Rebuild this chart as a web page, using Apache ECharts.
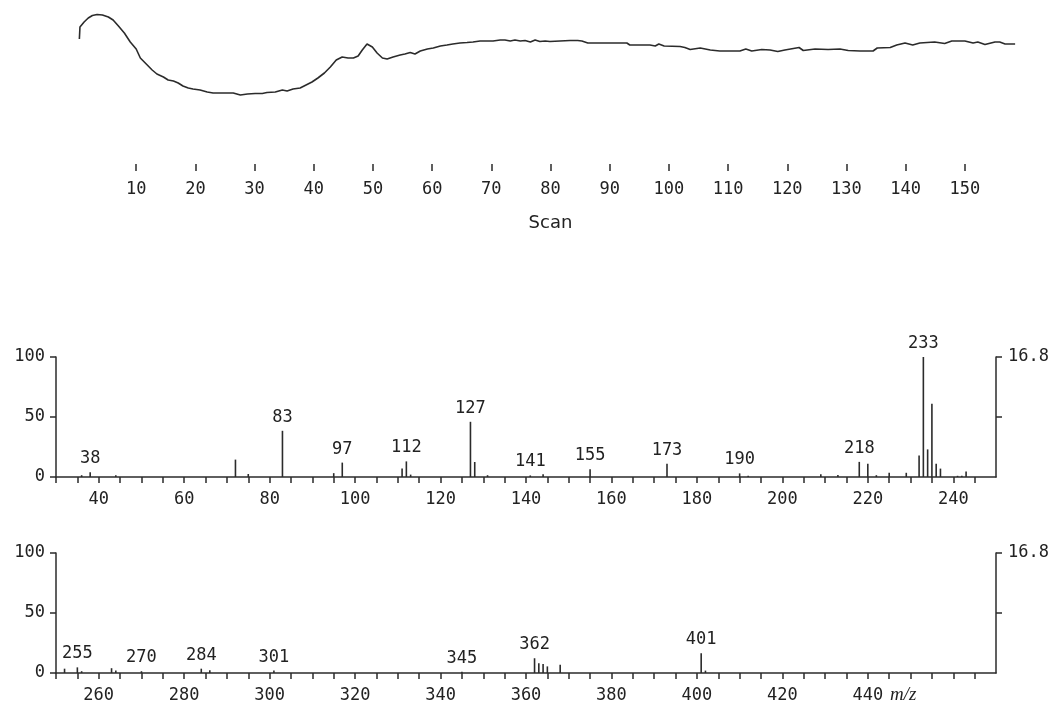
<!DOCTYPE html>
<html>
<head>
<meta charset="utf-8">
<script src="https://cdn.jsdelivr.net/npm/echarts@6/dist/echarts.min.js"></script>
<style>
  html, body { margin: 0; padding: 0; background: #fff; }
  #container { width: 1056px; height: 706px; }
</style>
</head>
<body>
<div id="container"></div>
<script>
// total ion trace (scan number vs. relative signal)
var scans = [0.4,0.5,0.7,1.2,1.9,2.6,3.4,4.3,5.3,6.1,
    7.0,8.0,9.0,10.0,10.7,11.7,12.7,13.5,14.6,15.4,
    16.3,17.1,17.9,18.8,19.6,20.8,22.0,23.0,24.2,25.4,
    26.4,27.6,28.8,30.1,31.3,32.1,33.5,34.7,35.5,36.5,
    37.7,38.7,39.7,40.7,41.8,42.8,43.8,44.8,45.8,46.7,
    47.5,48.2,49.0,49.9,50.7,51.6,52.4,53.4,54.6,55.4,
    56.3,57.1,58.0,59.2,60.2,61.4,62.5,63.5,64.7,65.9,
    66.9,68.1,69.3,70.3,71.5,72.3,73.2,74.0,74.9,75.7,
    76.6,77.4,78.2,79.1,79.9,81.6,83.3,84.6,85.3,86.3,
    88.4,90.9,92.9,93.4,95.1,96.8,97.7,98.3,99.2,101.9,
    102.7,103.6,105.3,107.0,108.6,112.0,113.0,114.0,115.7,117.1,
    118.4,119.6,122.0,122.7,124.7,126.9,127.2,128.9,130.3,132.3,
    134.5,135.2,137.4,138.5,139.9,141.2,142.4,144.9,146.6,147.8,
    150.0,151.4,152.2,153.4,155.1,155.9,156.8,158.5];
var signal = [61,73,75,78,82,84.5,85.5,85,83,80,
    74,67,58,51,42,36,30,26,23,20,
    19,17,14,12,11,10,8,7,7,7,
    7,5,6,6.5,6.5,7.5,8,10,9,11,
    12,15,18,22,27,33,40,43,42,42,
    44,50,56,53,47,42,41,43,45,46,
    47.5,46,49,51,52,54,55,56,57,57.5,
    58,59,59,59,60,60,59,60,59,59.5,
    58,60,58.5,59,58.5,59,59.5,59.5,59,57,
    57,57,57,55,55,55,54,56,54,53.5,
    52.5,50.5,52,50,49,49,51,49,50.5,50,
    48.5,50,52.5,49.5,51,50.5,49,51,49.5,49,
    49,52,52.5,55,57,55,57,58,56.5,59,
    59,57,58,55.5,58,58,56,56];
var scanTicks = [10,20,30,40,50,60,70,80,90,100,110,120,130,140,150];

// mass spectrum, m/z 30-250
var mz1  = [36,38,44,72,75,83,95,97,111,112,113,127,128,131,141,144,155,173,190,192,209,213,218,220,222,225,229,232,233,234,235,236,237,241,242,243];
var int1 = [1.5,4,1.5,14.5,2.5,38.5,3.2,12,7,13,2,46,12.5,1.5,1.3,2.2,6.5,11,3,1,2.2,1.7,12.6,11,1.5,3.5,3.5,18,100,23,61,11,7,1,1,4.5];
var peaks1 = [38,83,97,112,127,141,155,173,190,218,233];
var labels1 = [40,60,80,100,120,140,160,180,200,220,240];

// mass spectrum, m/z 250-470
var mz2  = [252,255,256,263,264,270,284,286,301,345,362,363,364,365,368,401,402];
var int2 = [3.6,4.7,1.5,4,2,1.5,3.6,2.2,2,1,12.3,8.2,7.4,5.5,6.8,16.4,2];
var peaks2 = [255,270,284,301,345,362,401];
var labels2 = [260,280,300,320,340,360,380,400,420,440];

var fullScale = '16.8';

var ink = '#2b2b2b';
var mono = '"DejaVu Sans Mono", monospace';

function stepTicks(from, to) {
    var t = [];
    for (var v = from; v <= to; v += 5) t.push(v);
    return t;
}

function barData(mz, inten, peaks) {
    return mz.map(function (m, i) {
        var item = { value: [m, inten[i]] };
        if (peaks.indexOf(m) >= 0) item.label = { show: true };
        return item;
    });
}

function specX(gi, min, max, labels) {
    return {
        gridIndex: gi, type: 'value', min: min, max: max, interval: 5,
        axisLine: { show: true, lineStyle: { color: ink, width: 1.5 } },
        axisTick: { show: true, length: 6, customValues: stepTicks(min, max - 5), lineStyle: { color: ink, width: 1.5 } },
        axisLabel: {
            customValues: labels, margin: 14,
            color: '#222', fontFamily: mono, fontSize: 17
        },
        splitLine: { show: false }
    };
}

function specYLeft(gi) {
    return {
        gridIndex: gi, type: 'value', min: 0, max: 100, interval: 50, position: 'left',
        axisLine: { show: true, lineStyle: { color: ink, width: 1.5 } },
        axisTick: { show: true, length: 6, lineStyle: { color: ink, width: 1.5 } },
        axisLabel: { margin: 11, color: '#222', fontFamily: mono, fontSize: 17 },
        splitLine: { show: false }
    };
}

function specYRight(gi) {
    return {
        gridIndex: gi, type: 'value', min: 0, max: 100, interval: 50, position: 'right',
        axisLine: { show: true, lineStyle: { color: ink, width: 1.5 } },
        axisTick: { show: true, length: 6, customValues: [50, 100], lineStyle: { color: ink, width: 1.5 } },
        axisLabel: {
            customValues: [100], margin: 12, color: '#222', fontFamily: mono, fontSize: 17,
            formatter: function () { return fullScale; }
        },
        splitLine: { show: false }
    };
}

function barSeries(xi, yi, mz, inten, peaks) {
    return {
        type: 'bar', xAxisIndex: xi, yAxisIndex: yi,
        barWidth: 1.6,
        itemStyle: { color: ink },
        label: {
            show: false, position: 'top', distance: 5,
            color: '#222', fontFamily: mono, fontSize: 17,
            formatter: function (p) { return p.value[0]; }
        },
        data: barData(mz, inten, peaks),
        animation: false
    };
}

var option = {
    backgroundColor: '#fff',
    animation: false,
    grid: [
        { left: 77, top: 10, width: 947, height: 90 },
        { left: 56, top: 357, width: 940, height: 120 },
        { left: 56, top: 553, width: 940, height: 120 },
        { left: 77, top: 163, width: 947, height: 1 }
    ],
    xAxis: [
        { gridIndex: 0, type: 'value', min: 0, max: 160, show: false },
        specX(1, 30, 250, labels1),
        specX(2, 250, 470, labels2),
        {
            gridIndex: 3, type: 'value', min: 0, max: 160,
            axisLine: { show: false },
            axisTick: { show: true, length: 7, customValues: scanTicks, lineStyle: { color: ink, width: 1.5 } },
            axisLabel: { customValues: scanTicks, margin: 17, color: '#222', fontFamily: mono, fontSize: 17 },
            splitLine: { show: false },
            name: 'Scan', nameLocation: 'middle', nameGap: 50,
            nameTextStyle: { color: '#222', fontFamily: '"DejaVu Sans", sans-serif', fontSize: 18 }
        }
    ],
    yAxis: [
        { gridIndex: 0, type: 'value', min: 0, max: 90, show: false },
        specYLeft(1), specYRight(1),
        specYLeft(2), specYRight(2),
        { gridIndex: 3, type: 'value', min: 0, max: 1, show: false }
    ],
    series: [
        {
            type: 'line', xAxisIndex: 0, yAxisIndex: 0,
            showSymbol: false, smooth: false,
            lineStyle: { color: ink, width: 1.6 },
            data: scans.map(function (s, i) { return [s, signal[i]]; })
        },
        barSeries(1, 1, mz1, int1, peaks1),
        barSeries(2, 3, mz2, int2, peaks2)
    ],
    graphic: [
        {
            type: 'text', left: 890, top: 685,
            style: { text: 'm/z', font: 'italic 19px "Liberation Serif"', fill: '#222' }
        }
    ]
};

var myChart = echarts.init(document.getElementById('container'));
myChart.setOption(option);
</script>
</body>
</html>
